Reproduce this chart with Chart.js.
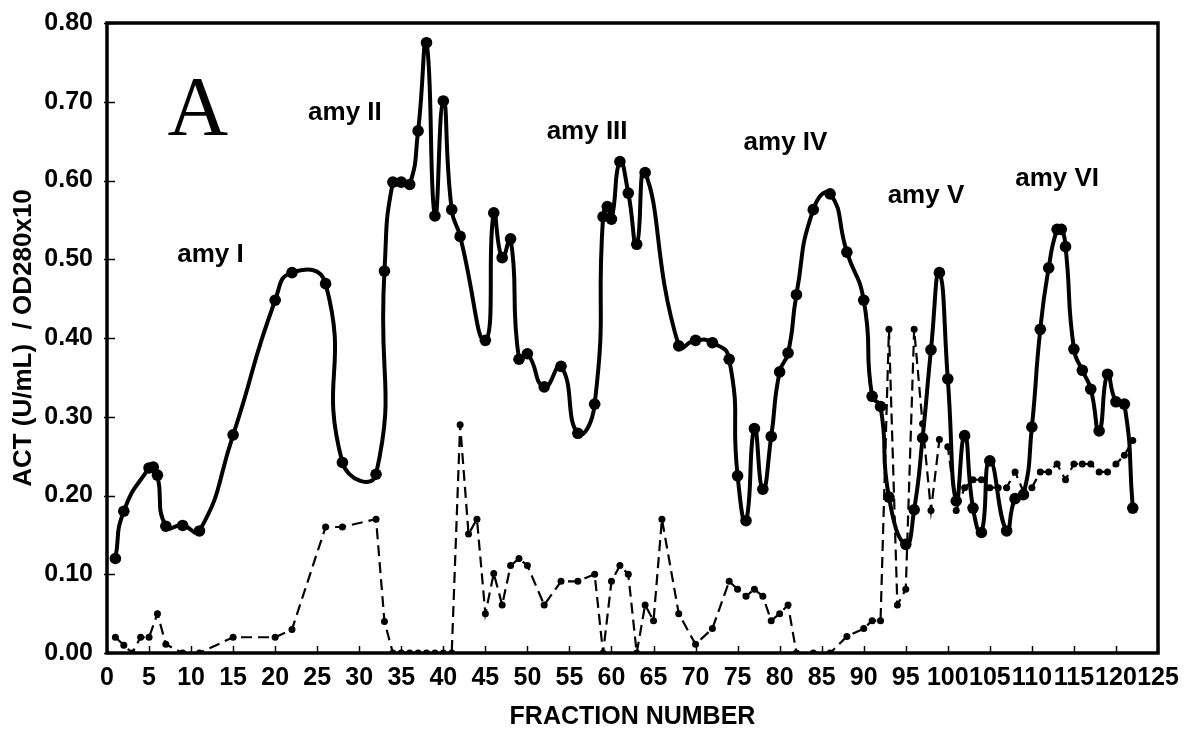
<!DOCTYPE html>
<html>
<head>
<meta charset="utf-8">
<script src="https://cdn.jsdelivr.net/npm/chart.js@4.4.1/dist/chart.umd.min.js"></script>
<style>
  html, body { margin: 0; padding: 0; background: #fff; }
  #wrap { width: 1187px; height: 730px; }
</style>
</head>
<body>
<div id="wrap"><canvas id="myChart"></canvas></div>
<script>
// activity (solid line, big dots)
var actFrac = [1, 2, 5, 5.5, 6, 7, 9, 11, 15, 20, 22, 26, 28, 32, 33, 34, 35, 36, 37, 38, 39, 40, 41, 42,
  45, 46, 47, 48, 49, 50, 52, 54, 56, 58, 59, 59.5, 60, 61, 62, 63, 64, 68, 70, 72, 74, 75, 76, 77, 78, 79,
  80, 81, 82, 84, 86, 88, 90, 91, 92, 93, 95, 96, 97, 98, 99, 100, 101, 102, 103, 104, 105, 107, 108, 109,
  110, 111, 112, 113, 113.5, 114, 115, 116, 117, 118, 119, 120, 121, 122];
var actVal = [0.12, 0.18, 0.235, 0.236, 0.226, 0.161, 0.162, 0.155, 0.277, 0.448, 0.483, 0.469, 0.242, 0.227,
  0.485, 0.598, 0.598, 0.595, 0.663, 0.775, 0.555, 0.701, 0.563, 0.529,
  0.397, 0.559, 0.502, 0.526, 0.373, 0.380, 0.338, 0.364, 0.279, 0.316, 0.554, 0.567, 0.551, 0.624, 0.584, 0.519,
  0.610, 0.390, 0.397, 0.394, 0.373, 0.225, 0.168, 0.285, 0.208, 0.275,
  0.357, 0.381, 0.455, 0.563, 0.583, 0.509, 0.448, 0.326, 0.313, 0.198, 0.138, 0.182, 0.273, 0.385, 0.483,
  0.348, 0.193, 0.276, 0.184, 0.153, 0.244, 0.155, 0.196, 0.201,
  0.287, 0.411, 0.489, 0.538, 0.538, 0.516, 0.386, 0.359, 0.335, 0.282, 0.354, 0.319, 0.316, 0.184];

// OD280 x10 (dashed line, small dots)
var odFrac = [1, 2, 3, 4, 5, 6, 7, 9, 11, 15, 20, 22, 26, 28, 32, 33, 34, 35, 36, 37, 38, 39, 40, 41,
  42, 43, 44, 45, 46, 47, 48, 49, 50, 52, 54, 56, 58, 59, 60, 61, 62, 63, 64, 65, 66, 68, 70, 72,
  74, 75, 76, 77, 78, 79, 80, 81, 82, 84, 86, 88, 90, 91, 92, 93, 94, 95, 96, 97, 98, 99, 100,
  101, 102, 103, 104, 105, 106, 107, 108, 109, 110, 111, 112, 113, 114, 115, 116, 117, 118, 119, 120, 121, 122];
var odVal = [0.02, 0.01, 0, 0.02, 0.02, 0.05, 0.011, 0, 0, 0.02, 0.02, 0.03, 0.16, 0.16, 0.17, 0.04, 0, 0, 0, 0, 0, 0, 0, 0,
  0.29, 0.151, 0.17, 0.05, 0.101, 0.061, 0.111, 0.12, 0.111, 0.061, 0.091, 0.091, 0.10, 0, 0.091, 0.111, 0.10, 0, 0.061, 0.041, 0.17, 0.05, 0.011, 0.031,
  0.091, 0.081, 0.072, 0.081, 0.072, 0.041, 0.05, 0.061, 0, 0, 0, 0.021, 0.031, 0.041, 0.041, 0.411, 0.061, 0.081, 0.411, 0.291, 0.181, 0.271, 0.262,
  0.181, 0.21, 0.22, 0.22, 0.21, 0.21, 0.21, 0.23, 0.205, 0.21, 0.23, 0.23, 0.24, 0.22, 0.24, 0.24, 0.24, 0.23, 0.23, 0.24, 0.251, 0.27];

var yTicks = [0, 0.1, 0.2, 0.3, 0.4, 0.5, 0.6, 0.7, 0.8];
var xTicks = [0, 5, 10, 15, 20, 25, 30, 35, 40, 45, 50, 55, 60, 65, 70, 75, 80, 85, 90, 95, 100, 105, 110, 115, 120, 125];

// peak names, placed at data coordinates
var peakNames = ['amy I', 'amy II', 'amy III', 'amy IV', 'amy V', 'amy VI'];
var peakX = [12.3, 28.3, 57.1, 80.7, 97.4, 113];
var peakY = [0.506, 0.686, 0.662, 0.648, 0.58, 0.602];

function pts(xs, ys) {
  var out = [];
  for (var i = 0; i < xs.length; i++) out.push({ x: xs[i], y: ys[i] });
  return out;
}

var font = "Arial, 'Liberation Sans', sans-serif";

var framePlugin = {
  id: 'frame',
  afterDraw: function (chart) {
    var c = chart.ctx, a = chart.chartArea;
    var xs = chart.scales.x, ys = chart.scales.y;
    c.save();
    c.strokeStyle = '#000';
    c.lineWidth = 1.5;
    // inward ticks
    xTicks.forEach(function (t) {
      var px = Math.round(xs.getPixelForValue(t)) + 0.5;
      c.beginPath(); c.moveTo(px, a.bottom); c.lineTo(px, a.bottom - 7); c.stroke();
    });
    yTicks.forEach(function (t) {
      var py = Math.round(ys.getPixelForValue(t)) + 0.5;
      c.beginPath(); c.moveTo(a.left - 3, py); c.lineTo(a.left + 8, py); c.stroke();
    });
    c.lineWidth = 3.5;
    c.strokeRect(a.left, a.top, a.right - a.left, a.bottom - a.top);
    // labels
    c.fillStyle = '#000';
    c.textAlign = 'center';
    c.textBaseline = 'middle';
    c.font = "bold 26px " + font;
    for (var i = 0; i < peakNames.length; i++) {
      c.fillText(peakNames[i], xs.getPixelForValue(peakX[i]), ys.getPixelForValue(peakY[i]));
    }
    c.font = "84px 'Times New Roman', 'Liberation Serif', serif";
    c.textBaseline = 'alphabetic';
    c.fillText('A', xs.getPixelForValue(10.8), ys.getPixelForValue(0.658));
    c.restore();
  }
};

var ctx = document.getElementById('myChart').getContext('2d');
var myChart = new Chart(ctx, {
  type: 'line',
  data: {
    datasets: [{
      label: 'ACT',
      data: pts(actFrac, actVal),
      borderColor: '#000',
      backgroundColor: '#000',
      borderWidth: 4,
      pointRadius: 5.8,
      pointBorderWidth: 0,
      tension: 0.55,
      fill: false
    }, {
      label: 'OD280',
      data: pts(odFrac, odVal),
      borderColor: '#000',
      backgroundColor: '#000',
      borderWidth: 2.2,
      borderDash: [11, 6],
      pointRadius: 3.5,
      pointBorderWidth: 0,
      tension: 0,
      fill: false
    }]
  },
  options: {
    responsive: true,
    maintainAspectRatio: false,
    animation: false,
    layout: { padding: { top: 23, right: 29, left: 0, bottom: 0 } },
    plugins: {
      legend: { display: false },
      tooltip: { enabled: false }
    },
    scales: {
      x: {
        type: 'linear',
        min: 0,
        max: 125,
        afterFit: function (s) { s.height = 77; s.paddingLeft = 0; s.paddingRight = 0; },
        afterBuildTicks: function (s) { s.ticks = xTicks.map(function (v) { return { value: v }; }); },
        grid: { display: false, drawTicks: false },
        border: { display: false },
        ticks: {
          color: '#000',
          font: { family: font, size: 25, weight: 'bold' },
          padding: 10,
          maxRotation: 0,
          autoSkip: false
        },
        title: {
          display: true,
          text: 'FRACTION NUMBER',
          color: '#000',
          font: { family: font, size: 25, weight: 'bold' },
          padding: { top: 0, bottom: -2 }
        }
      },
      y: {
        min: 0,
        max: 0.8,
        afterFit: function (s) { s.width = 107; s.paddingTop = 0; s.paddingBottom = 0; },
        afterBuildTicks: function (s) { s.ticks = yTicks.map(function (v) { return { value: v }; }); },
        grid: { display: false, drawTicks: false },
        border: { display: false },
        ticks: {
          color: '#000',
          font: { family: font, size: 25, weight: 'bold' },
          padding: 14,
          callback: function (v) { return Number(v).toFixed(2); }
        },
        title: {
          display: true,
          text: 'ACT (U/mL)  / OD280x10',
          color: '#000',
          font: { family: font, size: 26, weight: 'bold' },
          padding: { top: 8, bottom: 0 }
        }
      }
    }
  },
  plugins: [framePlugin]
});
</script>
</body>
</html>
